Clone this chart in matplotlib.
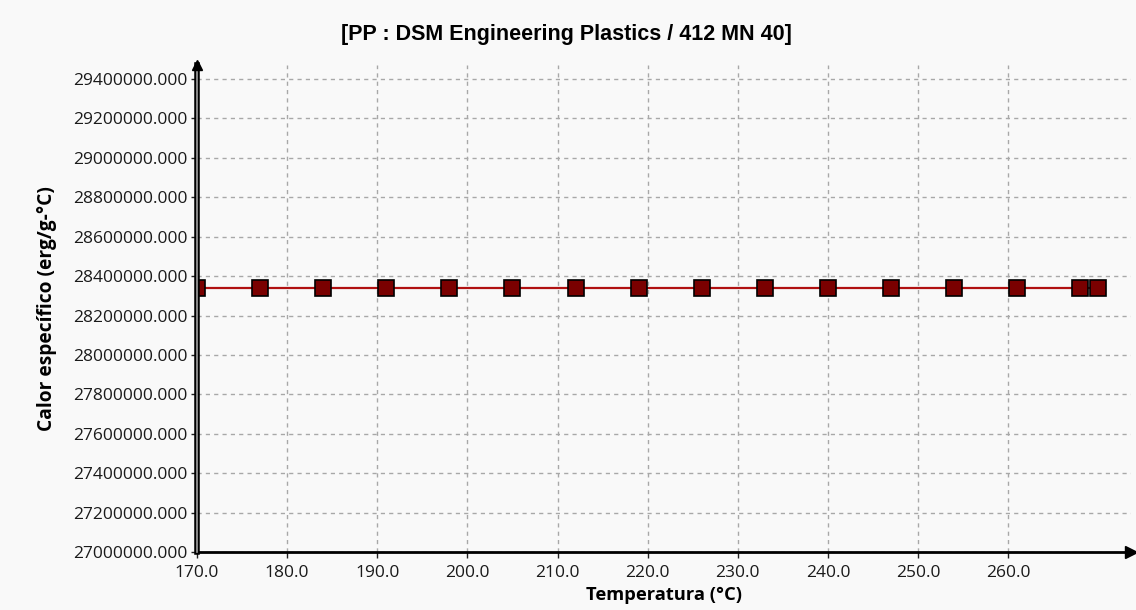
import matplotlib.pyplot as plt
from matplotlib.ticker import FixedLocator, FormatStrFormatter

# specific heat vs. temperature for the PP grade
temperatures = [170.0, 177.0, 184.0, 191.0, 198.0, 205.0, 212.0, 219.0,
                226.0, 233.0, 240.0, 247.0, 254.0, 261.0, 268.0, 270.0]
specific_heat = [28340000.0, 28340000.0, 28340000.0, 28340000.0,
                 28340000.0, 28340000.0, 28340000.0, 28340000.0,
                 28340000.0, 28340000.0, 28340000.0, 28340000.0,
                 28340000.0, 28340000.0, 28340000.0, 28340000.0]

x_ticks = [170.0, 180.0, 190.0, 200.0, 210.0, 220.0, 230.0, 240.0, 250.0, 260.0]
y_ticks = [27000000, 27200000, 27400000, 27600000, 27800000, 28000000,
           28200000, 28400000, 28600000, 28800000, 29000000, 29200000, 29400000]

title = '[PP : DSM Engineering Plastics / 412 MN 40]'
bg = '#f9f9f9'

fig = plt.figure(figsize=(11.36, 6.10), dpi=100, facecolor=bg)
ax = fig.add_axes([0.1734, 0.095, 0.822, 0.798], facecolor=bg)

ax.plot(temperatures, specific_heat, color='#b01010', linewidth=1.6, zorder=3)
ax.plot(temperatures, specific_heat, linestyle='none', marker='s', markersize=11,
        markerfacecolor='#7a0000', markeredgecolor='black', markeredgewidth=1.2,
        zorder=4)

ax.set_xlim(170.0, 273.6)
ax.set_ylim(27000000, 29470000)
ax.xaxis.set_major_locator(FixedLocator(x_ticks))
ax.yaxis.set_major_locator(FixedLocator(y_ticks))
ax.xaxis.set_major_formatter(FormatStrFormatter('%.1f'))
ax.yaxis.set_major_formatter(FormatStrFormatter('%.3f'))

ax.grid(True, color='#a8a8a8', linestyle=(0, (3, 3)), linewidth=1.0)
ax.set_axisbelow(True)

for side in ['top', 'right']:
    ax.spines[side].set_visible(False)
ax.spines['left'].set_linewidth(4)
ax.spines['left'].set_color('black')
ax.spines['left'].set_zorder(5)
ax.spines['bottom'].set_linewidth(2)
ax.spines['bottom'].set_color('black')
ax.spines['bottom'].set_zorder(5)
# gray core of the double y axis line
ax.plot([0, 0], [0, 1], transform=ax.transAxes, color='#a0a0a0',
        linewidth=1.2, clip_on=False, zorder=6)

# arrow heads at the axis ends
ax.plot(1, 0, marker='>', markersize=9, color='black', transform=ax.transAxes,
        clip_on=False, zorder=6)
ax.plot(0, 1, marker='^', markersize=7, color='black', transform=ax.transAxes,
        clip_on=False, zorder=6)

ax.tick_params(axis='both', colors='#202020', labelsize=12.5, length=4, width=1)
ax.tick_params(axis='y', pad=2.5)
ax.tick_params(axis='x', pad=5)
for lab in ax.get_xticklabels() + ax.get_yticklabels():
    lab.set_fontfamily(['Open Sans', 'DejaVu Sans'])
    lab.set_color('#1a1a1a')

label_family = ['Open Sans', 'DejaVu Sans']
ax.set_xlabel('Temperatura (°C)', family=label_family, weight='bold',
              size=13.2, labelpad=4)
ax.set_ylabel('Calor específico (erg/g-°C)', family=label_family, weight='bold',
              size=13.8, labelpad=12)

fig.text(0.499, 0.944, title, ha='center', va='center',
         family=['Liberation Sans', 'DejaVu Sans'], weight='bold', size=15.5)

fig.savefig('out.png', dpi=100, facecolor=bg)
